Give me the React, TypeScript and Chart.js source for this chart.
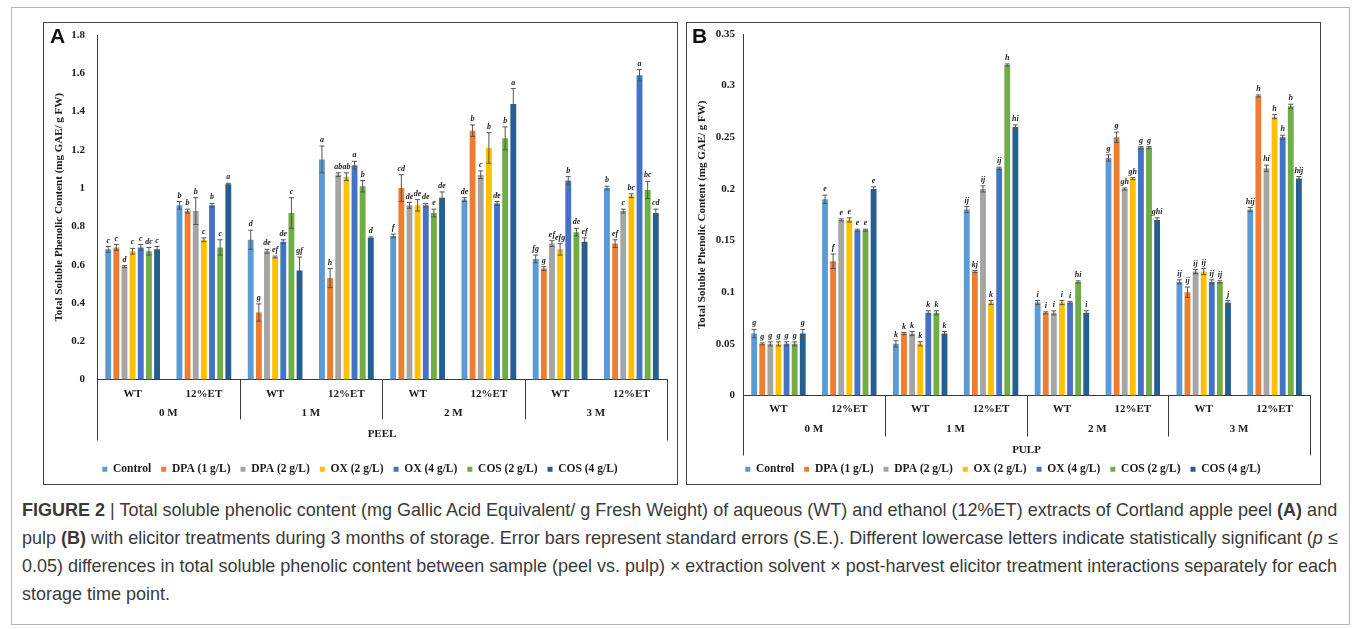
import React, { useEffect, useLayoutEffect, useRef } from "react";
import { Chart, registerables } from "chart.js";

Chart.register(...registerables);

// ---------- shared labels ----------
const SERIES_NAMES = ["Control", "DPA (1 g/L)", "DPA (2 g/L)", "OX (2 g/L)", "OX (4 g/L)", "COS (2 g/L)", "COS (4 g/L)"];
const SERIES_COLORS = ["#5B9BD5", "#ED7D31", "#A5A5A5", "#FFC000", "#4472C4", "#70AD47", "#255E91"];
const MONTHS = ["0 M", "1 M", "2 M", "3 M"];
const CATEGORIES = ["WT", "12%ET", "WT", "12%ET", "WT", "12%ET", "WT", "12%ET"];
const Y_TITLE = "Total Soluble Phenolic Content (mg GAE/ g FW)";

// ---------- panel A : PEEL ----------
const PEEL_TICKS = [0, 0.2, 0.4, 0.6, 0.8, 1, 1.2, 1.4, 1.6, 1.8];
const peelControl = [0.68, 0.91, 0.73, 1.15, 0.75, 0.94, 0.63, 1.0];
const peelDpa1 = [0.69, 0.88, 0.35, 0.53, 1.0, 1.3, 0.58, 0.71];
const peelDpa2 = [0.59, 0.88, 0.67, 1.07, 0.91, 1.07, 0.71, 0.88];
const peelOx2 = [0.67, 0.73, 0.64, 1.06, 0.91, 1.21, 0.68, 0.96];
const peelOx4 = [0.69, 0.91, 0.72, 1.12, 0.91, 0.92, 1.04, 1.59];
const peelCos2 = [0.67, 0.69, 0.87, 1.01, 0.87, 1.26, 0.77, 0.99];
const peelCos4 = [0.68, 1.02, 0.57, 0.74, 0.95, 1.44, 0.72, 0.87];

const peelErrControl = [0.015, 0.02, 0.05, 0.07, 0.01, 0.01, 0.02, 0.01];
const peelErrDpa1 = [0.015, 0.01, 0.045, 0.05, 0.07, 0.03, 0.01, 0.02];
const peelErrDpa2 = [0.005, 0.07, 0.01, 0.01, 0.015, 0.02, 0.015, 0.01];
const peelErrOx2 = [0.015, 0.01, 0.005, 0.02, 0.03, 0.08, 0.03, 0.01];
const peelErrOx4 = [0.015, 0.01, 0.01, 0.02, 0.01, 0.01, 0.02, 0.03];
const peelErrCos2 = [0.02, 0.04, 0.08, 0.03, 0.02, 0.06, 0.02, 0.045];
const peelErrCos4 = [0.015, 0.005, 0.07, 0.005, 0.03, 0.08, 0.02, 0.02];

const peelLetControl = ["c", "b", "d", "a", "f", "de", "fg", "b"];
const peelLetDpa1 = ["c", "b", "g", "h", "cd", "b", "g", "ef"];
const peelLetDpa2 = ["d", "b", "de", "ab", "de", "c", "ef", "c"];
const peelLetOx2 = ["c", "c", "ef", "ab", "de", "b", "efg", "bc"];
const peelLetOx4 = ["c", "b", "de", "a", "de", "de", "b", "a"];
const peelLetCos2 = ["dc", "c", "c", "b", "e", "b", "de", "bc"];
const peelLetCos4 = ["c", "a", "gf", "d", "de", "a", "ef", "cd"];

// ---------- panel B : PULP ----------
const PULP_TICKS = [0, 0.05, 0.1, 0.15, 0.2, 0.25, 0.3, 0.35];
const pulpControl = [0.06, 0.19, 0.05, 0.18, 0.09, 0.23, 0.11, 0.18];
const pulpDpa1 = [0.05, 0.13, 0.06, 0.12, 0.08, 0.25, 0.1, 0.29];
const pulpDpa2 = [0.05, 0.17, 0.06, 0.2, 0.08, 0.2, 0.12, 0.22];
const pulpOx2 = [0.05, 0.17, 0.05, 0.09, 0.09, 0.21, 0.12, 0.27];
const pulpOx4 = [0.05, 0.16, 0.08, 0.22, 0.09, 0.24, 0.11, 0.25];
const pulpCos2 = [0.05, 0.16, 0.08, 0.32, 0.11, 0.24, 0.11, 0.28];
const pulpCos4 = [0.06, 0.2, 0.06, 0.26, 0.08, 0.17, 0.09, 0.21];

const pulpErrControl = [0.004, 0.004, 0.003, 0.003, 0.002, 0.003, 0.002, 0.002];
const pulpErrDpa1 = [0.001, 0.007, 0.001, 0.001, 0.001, 0.005, 0.005, 0.001];
const pulpErrDpa2 = [0.002, 0.001, 0.002, 0.003, 0.002, 0.001, 0.002, 0.003];
const pulpErrOx2 = [0.002, 0.002, 0.002, 0.002, 0.002, 0.001, 0.003, 0.002];
const pulpErrOx4 = [0.002, 0.001, 0.002, 0.001, 0.001, 0.001, 0.002, 0.002];
const pulpErrCos2 = [0.002, 0.001, 0.002, 0.001, 0.001, 0.001, 0.001, 0.002];
const pulpErrCos4 = [0.004, 0.002, 0.002, 0.002, 0.002, 0.002, 0.002, 0.002];

const pulpLetControl = ["g", "e", "k", "ij", "i", "g", "ij", "hij"];
const pulpLetDpa1 = ["g", "f", "k", "kj", "i", "g", "ij", "h"];
const pulpLetDpa2 = ["g", "e", "k", "ij", "i", "gh", "ij", "hi"];
const pulpLetOx2 = ["g", "e", "k", "k", "i", "gh", "ij", "h"];
const pulpLetOx4 = ["g", "e", "k", "ij", "i", "g", "ij", "h"];
const pulpLetCos2 = ["g", "e", "k", "h", "hi", "g", "ij", "h"];
const pulpLetCos4 = ["g", "e", "k", "hi", "i", "ghi", "j", "hij"];

const SERIF = "'Liberation Serif', 'Times New Roman', serif";

type PanelCfg = {
  values: number[][];
  errors: number[][];
  letters: string[][];
  ticks: number[];
  sample: string;
  yWidth: number;
  padLeft: number;
  padTop: number;
  tickPad: number;
  xHeight: number;
  offs: number[]; // solvent, month, sample, sepLen, outerLen
};

const hierPlugin = {
  id: "hierLabels",
  afterDraw(chart: any, _args: any, opts: any) {
    const { ctx, chartArea } = chart;
    const { left, right, bottom } = chartArea;
    const x = chart.scales.x;
    const o = opts.offs as number[];
    ctx.save();
    ctx.strokeStyle = "#3a3a3a";
    ctx.lineWidth = 1;
    const vline = (px: number, len: number) => {
      ctx.beginPath();
      ctx.moveTo(Math.round(px) + 0.5, bottom);
      ctx.lineTo(Math.round(px) + 0.5, bottom + len);
      ctx.stroke();
    };
    vline(left, o[4]);
    vline(right, o[4]);
    for (let k = 1; k < MONTHS.length; k++) {
      const xb = (x.getPixelForValue(2 * k - 1) + x.getPixelForValue(2 * k)) / 2;
      vline(xb, o[3]);
    }
    ctx.fillStyle = "#1a1a1a";
    ctx.textAlign = "center";
    ctx.textBaseline = "middle";
    ctx.font = `bold 11px ${SERIF}`;
    CATEGORIES.forEach((lab, i) => {
      ctx.fillText(lab, x.getPixelForValue(i), bottom + o[0]);
    });
    MONTHS.forEach((m, k) => {
      const cx = (x.getPixelForValue(2 * k) + x.getPixelForValue(2 * k + 1)) / 2;
      ctx.fillText(m, cx, bottom + o[1]);
    });
    ctx.fillText(opts.sample, (left + right) / 2, bottom + o[2]);
    ctx.restore();
  },
};

const errPlugin = {
  id: "errLetters",
  afterDatasetsDraw(chart: any, _args: any, opts: any) {
    const { ctx } = chart;
    const y = chart.scales.y;
    ctx.save();
    chart.data.datasets.forEach((ds: any, di: number) => {
      const meta = chart.getDatasetMeta(di);
      meta.data.forEach((bar: any, i: number) => {
        const v = ds.data[i] as number;
        const e = opts.errors[di][i] as number;
        const yT = y.getPixelForValue(v + e);
        const yB = y.getPixelForValue(v - e);
        ctx.strokeStyle = "#555";
        ctx.lineWidth = 1;
        ctx.beginPath();
        ctx.moveTo(bar.x, yT);
        ctx.lineTo(bar.x, yB);
        ctx.moveTo(bar.x - 2.5, yT);
        ctx.lineTo(bar.x + 2.5, yT);
        ctx.moveTo(bar.x - 2.5, yB);
        ctx.lineTo(bar.x + 2.5, yB);
        ctx.stroke();
        ctx.fillStyle = "#222";
        ctx.font = `italic bold 8px ${SERIF}`;
        ctx.textAlign = "center";
        ctx.textBaseline = "bottom";
        ctx.fillText(opts.letters[di][i], bar.x, yT - 2);
      });
    });
    ctx.restore();
  },
};

function fmt(v: number) {
  return String(Number(v.toFixed(2)));
}

function Panel({ cfg, width, height }: { cfg: PanelCfg; width: number; height: number }) {
  const ref = useRef<HTMLCanvasElement | null>(null);
  useEffect(() => {
    if (!ref.current) return;
    const chart = new Chart(ref.current, {
      type: "bar",
      data: {
        labels: CATEGORIES,
        datasets: SERIES_NAMES.map((name, i) => ({
          label: name,
          data: cfg.values[i],
          backgroundColor: SERIES_COLORS[i],
          borderWidth: 0,
          barPercentage: 0.72,
          categoryPercentage: 0.8,
        })),
      },
      options: {
        responsive: false,
        animation: false,
        layout: { padding: { left: cfg.padLeft, right: 10, top: cfg.padTop, bottom: -1 } },
        scales: {
          x: {
            grid: { display: false },
            border: { display: true, color: "#3a3a3a", width: 1 },
            ticks: { display: false },
            afterFit: (s: any) => {
              s.height = cfg.xHeight;
              s.paddingLeft = 0;
              s.paddingRight = 0;
            },
          },
          y: {
            min: 0,
            max: cfg.ticks[cfg.ticks.length - 1],
            afterBuildTicks: (s: any) => {
              s.ticks = cfg.ticks.map((v) => ({ value: v }));
            },
            grid: { display: false, drawTicks: false },
            border: { display: true, color: "#3a3a3a", width: 1 },
            ticks: {
              padding: cfg.tickPad,
              color: "#1a1a1a",
              font: { family: SERIF, weight: "bold", size: 11 },
              callback: (v: any) => fmt(Number(v)),
            },
            title: {
              display: true,
              text: Y_TITLE,
              color: "#1a1a1a",
              padding: 0,
              font: { family: SERIF, weight: "bold", size: 11 },
            },
            afterFit: (s: any) => {
              s.width = cfg.yWidth;
              s.paddingTop = 0;
              s.paddingBottom = 0;
            },
          },
        },
        plugins: {
          legend: {
            position: "bottom",
            labels: {
              boxWidth: 5,
              boxHeight: 5,
              padding: 10,
              color: "#1a1a1a",
              font: { family: SERIF, weight: "bold", size: 11.5 },
            },
          },
          tooltip: { enabled: false },
          hierLabels: { offs: cfg.offs, sample: cfg.sample },
          errLetters: { errors: cfg.errors, letters: cfg.letters },
        } as any,
      },
      plugins: [hierPlugin, errPlugin],
    } as any);
    return () => chart.destroy();
  }, [cfg]);
  return <canvas ref={ref} width={width} height={height} style={{ width, height, display: "block" }} />;
}

const peelCfg: PanelCfg = {
  values: [peelControl, peelDpa1, peelDpa2, peelOx2, peelOx4, peelCos2, peelCos4],
  errors: [peelErrControl, peelErrDpa1, peelErrDpa2, peelErrOx2, peelErrOx4, peelErrCos2, peelErrCos4],
  letters: [peelLetControl, peelLetDpa1, peelLetDpa2, peelLetOx2, peelLetOx4, peelLetCos2, peelLetCos4],
  ticks: PEEL_TICKS,
  sample: "PEEL",
  yWidth: 44,
  padLeft: 9,
  padTop: 12,
  tickPad: 12,
  xHeight: 74,
  offs: [15, 34, 55, 40, 61],
};

const pulpCfg: PanelCfg = {
  values: [pulpControl, pulpDpa1, pulpDpa2, pulpOx2, pulpOx4, pulpCos2, pulpCos4],
  errors: [pulpErrControl, pulpErrDpa1, pulpErrDpa2, pulpErrOx2, pulpErrOx4, pulpErrCos2, pulpErrCos4],
  letters: [pulpLetControl, pulpLetDpa1, pulpLetDpa2, pulpLetOx2, pulpLetOx4, pulpLetCos2, pulpLetCos4],
  ticks: PULP_TICKS,
  sample: "PULP",
  yWidth: 47,
  padLeft: 9,
  padTop: 11,
  tickPad: 8,
  xHeight: 58,
  offs: [14, 34, 55, 41, 60],
};

const boxStyle = (left: number): React.CSSProperties => ({
  position: "absolute",
  left,
  top: 22,
  width: 635,
  height: 463,
  border: "1px solid #444",
  boxSizing: "border-box",
  background: "#fff",
});

const letterStyle = (left: number): React.CSSProperties => ({
  position: "absolute",
  left,
  top: 24,
  fontFamily: "'Liberation Sans', Arial, sans-serif",
  fontWeight: "bold",
  fontSize: 21,
  color: "#111",
});

const CAPTION_FONT = "'Liberation Sans', Arial, sans-serif";
const CAPTION_TARGETS = [1315, 1316, 1315];

function Caption() {
  const refs = useRef<(HTMLSpanElement | null)[]>([]);
  useLayoutEffect(() => {
    const scales: number[] = [];
    refs.current.forEach((el, i) => {
      if (!el) return;
      el.style.transform = "none";
      const w = el.offsetWidth;
      if (i < CAPTION_TARGETS.length && w > 0) {
        const s = CAPTION_TARGETS[i] / w;
        scales.push(s);
        el.style.transform = `scaleX(${s})`;
      }
    });
    const last = refs.current[CAPTION_TARGETS.length];
    if (last && scales.length) {
      const avg = scales.reduce((a, b) => a + b, 0) / scales.length;
      last.style.transform = `scaleX(${avg})`;
    }
  }, []);
  const lineStyle: React.CSSProperties = {
    display: "inline-block",
    transformOrigin: "0 0",
    whiteSpace: "nowrap",
  };
  return (
    <div
      style={{
        position: "absolute",
        left: 22,
        top: 496,
        fontFamily: CAPTION_FONT,
        fontSize: 18.5,
        lineHeight: "28px",
        color: "#3a3a3a",
      }}
    >
      <div>
        <span ref={(el) => { refs.current[0] = el; }} style={lineStyle}>
          <b>FIGURE 2</b> | Total soluble phenolic content (mg Gallic Acid Equivalent/ g Fresh Weight) of aqueous (WT) and ethanol (12%ET) extracts of Cortland apple peel <b>(A)</b> and
        </span>
      </div>
      <div>
        <span ref={(el) => { refs.current[1] = el; }} style={lineStyle}>
          pulp <b>(B)</b> with elicitor treatments during 3 months of storage. Error bars represent standard errors (S.E.). Different lowercase letters indicate statistically significant (<i>p</i> ≤
        </span>
      </div>
      <div>
        <span ref={(el) => { refs.current[2] = el; }} style={lineStyle}>
          0.05) differences in total soluble phenolic content between sample (peel vs. pulp) × extraction solvent × post-harvest elicitor treatment interactions separately for each
        </span>
      </div>
      <div>
        <span ref={(el) => { refs.current[3] = el; }} style={lineStyle}>
          storage time point.
        </span>
      </div>
    </div>
  );
}

export default function App() {
  return (
    <div style={{ position: "absolute", left: 0, top: 0, width: 1358, height: 629, background: "#fff" }}>
      <div
        style={{
          position: "absolute",
          left: 11,
          top: 7,
          width: 1339,
          height: 618,
          border: "1px solid #b5b5b5",
          boxSizing: "border-box",
        }}
      />
      <div style={boxStyle(43)}>
        <Panel cfg={peelCfg} width={633} height={461} />
      </div>
      <div style={letterStyle(50)}>A</div>
      <div style={boxStyle(686)}>
        <Panel cfg={pulpCfg} width={633} height={461} />
      </div>
      <div style={letterStyle(692)}>B</div>
      <Caption />
    </div>
  );
}
